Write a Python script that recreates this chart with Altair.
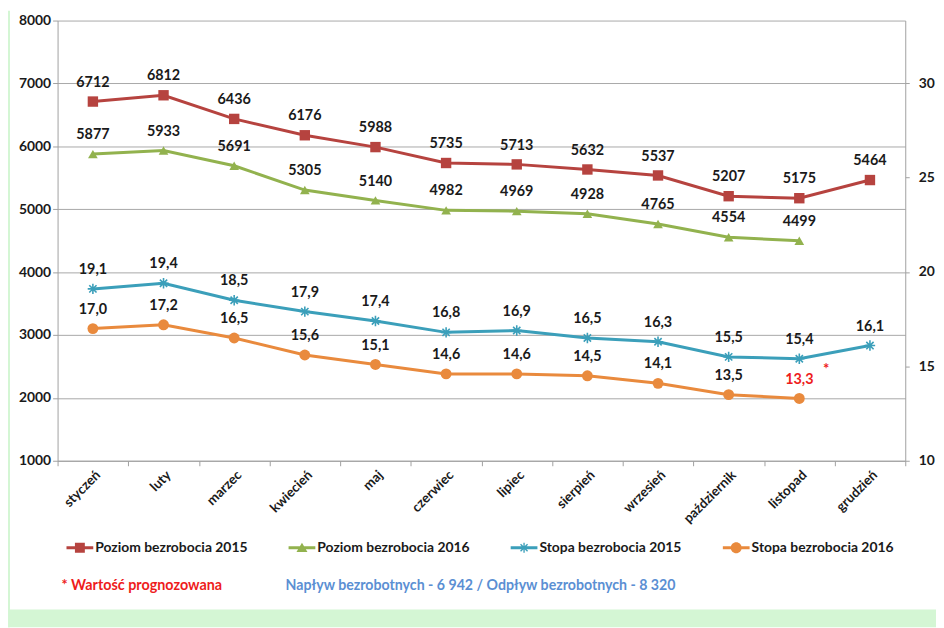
import math
import altair as alt
import pandas as pd

# ---------------- data ----------------
months = ["styczeń", "luty", "marzec", "kwiecień", "maj", "czerwiec", "lipiec",
          "sierpień", "wrzesień", "październik", "listopad", "grudzień"]
poziom_2015 = [6712, 6812, 6436, 6176, 5988, 5735, 5713, 5632, 5537, 5207, 5175, 5464]
poziom_2016 = [5877, 5933, 5691, 5305, 5140, 4982, 4969, 4928, 4765, 4554, 4499]
stopa_2015 = [19.1, 19.4, 18.5, 17.9, 17.4, 16.8, 16.9, 16.5, 16.3, 15.5, 15.4, 16.1]
stopa_2016 = [17.0, 17.2, 16.5, 15.6, 15.1, 14.6, 14.6, 14.5, 14.1, 13.5, 13.3]
series_names = ["Poziom bezrobocia 2015", "Poziom bezrobocia 2016",
                "Stopa bezrobocia 2015", "Stopa bezrobocia 2016"]
series_colors = ["#b6433f", "#92b24e", "#3b9fba", "#e98a3d"]
left_ticks = [1000, 2000, 3000, 4000, 5000, 6000, 7000, 8000]
right_ticks = [10, 15, 20, 25, 30]
forecast_month = "listopad"
forecast_series = "Stopa bezrobocia 2016"
note_forecast = "* Wartość prognozowana"
note_flows = "Napływ bezrobotnych - 6 942 / Odpływ bezrobotnych - 8 320"

FONT = "Lato"
TXT = "#1a1a1a"
RED = "#ee1c1c"
GRID = "#a8a8a8"
GREEN_BG = "#d4f6d4"


def frame(name, values):
    return pd.DataFrame({"month": months[:len(values)], "series": name, "value": values})


dfs = [frame(series_names[0], poziom_2015), frame(series_names[1], poziom_2016),
       frame(series_names[2], stopa_2015), frame(series_names[3], stopa_2016)]

# ---------------- encodings ----------------
x_enc = alt.X("month:N", sort=months, bandPosition=0.5,
              scale=alt.Scale(type="band", domain=months, paddingInner=0, paddingOuter=0),
              axis=alt.Axis(title=None, tickBand="extent", labelAngle=315, labelAlign="right",
                            labelBaseline="top", labelPadding=2, tickSize=5, grid=False,
                            domainColor="#a0a0a0", tickColor="#a0a0a0", labelFont=FONT,
                            labelFontWeight="bold", labelFontSize=13.5, labelColor=TXT))

y_left = alt.Y("value:Q",
               scale=alt.Scale(domain=[1000, 8000], nice=False, zero=False),
               axis=alt.Axis(title=None, values=left_ticks, format="d", grid=True,
                             gridColor=GRID, domainColor="#a0a0a0", tickColor="#a0a0a0",
                             tickSize=5, labelPadding=2, labelFont=FONT, labelFontWeight="bold",
                             labelFontSize=14, labelColor=TXT))

y_right = alt.Y("value:Q",
                scale=alt.Scale(domain=[10, 33.31], nice=False, zero=False),
                axis=alt.Axis(title=None, orient="right", values=right_ticks, grid=False,
                              domainColor="#a0a0a0", tickColor="#a0a0a0", tickSize=4,
                              labelPadding=9, labelFont=FONT, labelFontWeight="bold",
                              labelFontSize=14, labelColor=TXT))

asterisk = "M-1,0L1,0M0,-1L0,1M-0.7,-0.7L0.7,0.7M-0.7,0.7L0.7,-0.7"
marker_specs = [
    dict(shape="square", size=110, filled=True),
    dict(shape="triangle-up", size=95, filled=True),
    dict(shape=asterisk, size=110, filled=False, strokeWidth=1.6),
    dict(shape="circle", size=120, filled=True),
]


def series_layer(i, y_enc, fmt_expr):
    df = dfs[i]
    col = series_colors[i]
    base = alt.Chart(df).encode(x=x_enc, y=y_enc)
    line = base.mark_line(color=col, strokeWidth=3)
    pts = base.mark_point(color=col, opacity=1, **marker_specs[i])
    txt = base.transform_calculate(label=fmt_expr).mark_text(
        font=FONT, fontWeight="bold", fontSize=14.5, dy=-19, baseline="middle"
    ).encode(
        text="label:N",
        color=alt.condition(f"datum.month == '{forecast_month}' && datum.series == '{forecast_series}'",
                            alt.value(RED), alt.value(TXT)),
    )
    return alt.layer(line, pts, txt)


fmt_int = "format(datum.value, 'd')"
fmt_dec = "replace(format(datum.value, '.1f'), '.', ',')"

left = alt.layer(series_layer(0, y_left, fmt_int), series_layer(1, y_left, fmt_int))

star = alt.Chart(dfs[3]).transform_filter(
    f"datum.month == '{forecast_month}'"
).transform_calculate(star="'*'").mark_text(
    font=FONT, fontWeight="bold", fontSize=15, color=RED, dx=27, dy=-30
).encode(x=x_enc, y=y_right, text="star:N")

right = alt.layer(series_layer(2, y_right, fmt_dec), series_layer(3, y_right, fmt_dec), star)

# ---------------- legend (line + marker symbols) ----------------
def rect_arm(cx, cy, L, w):
    # rectangle along direction (cx, cy) with half-length L and half-width w (clockwise)
    nx, ny = -cy, cx
    pts = [(-L * cx - w * nx, -L * cy - w * ny), (L * cx - w * nx, L * cy - w * ny),
           (L * cx + w * nx, L * cy + w * ny), (-L * cx + w * nx, -L * cy + w * ny)]
    return "M" + "L".join(f"{a:.3f},{b:.3f}" for a, b in pts) + "Z"


line_path = "M-1,-0.11H1V0.11H-1Z"
r45 = math.sqrt(0.5)
legend_paths = [
    line_path + "M-0.37,-0.37H0.37V0.37H-0.37Z",
    line_path + "M-0.41,0.32L0,-0.38L0.41,0.32Z",
    line_path + rect_arm(0, 1, 0.37, 0.05) + rect_arm(r45, r45, 0.37, 0.05) + rect_arm(r45, -r45, 0.37, 0.05),
    line_path + "M-0.41,0A0.41,0.41,0,1,1,0.41,0A0.41,0.41,0,1,1,-0.41,0Z",
]

legend_def = alt.Legend(
    title=None, orient="none", legendX=9, legendY=518, direction="horizontal",
    columns=4, columnPadding=41, symbolSize=729, symbolStrokeWidth=0, symbolOpacity=1,
    labelFont=FONT, labelFontWeight="bold", labelFontSize=14, labelColor=TXT,
    labelOffset=2, labelLimit=400, padding=0,
)
legend_df = pd.DataFrame({"series": series_names})
legend_layer = alt.Chart(legend_df).mark_point(filled=True, opacity=0, size=729).encode(
    color=alt.Color("series:N", sort=series_names,
                    scale=alt.Scale(domain=series_names, range=series_colors), legend=legend_def),
    shape=alt.Shape("series:N", sort=series_names,
                    scale=alt.Scale(domain=series_names, range=legend_paths), legend=legend_def),
)

# ---------------- notes and frame decoration ----------------
note1 = alt.Chart(pd.DataFrame({"t": [note_forecast]})).mark_text(
    font=FONT, fontWeight="bold", fontSize=14.5, color=RED, align="left", baseline="middle"
).encode(x=alt.value(4), y=alt.value(570), text="t:N")
note2 = alt.Chart(pd.DataFrame({"t": [note_flows]})).mark_text(
    font=FONT, fontWeight="bold", fontSize=14.3, color="#5b8fd3", align="left", baseline="middle"
).encode(x=alt.value(230), y=alt.value(570), text="t:N")

deco_df = pd.DataFrame({"k": [0]})
strip_bottom = alt.Chart(deco_df).mark_rect(color=GREEN_BG).encode(
    x=alt.value(-50), x2=alt.value(886), y=alt.value(594), y2=alt.value(612))
strip_left = alt.Chart(deco_df).mark_rect(color=GREEN_BG).encode(
    x=alt.value(-50), x2=alt.value(-48), y=alt.value(-10), y2=alt.value(612))

chart = alt.layer(
    strip_bottom, strip_left, left, right, legend_layer, note1, note2
).resolve_scale(
    y="independent", color="independent", shape="independent"
).properties(
    width=855, height=444,
    autosize=alt.AutoSizeParams(type="none"),
    padding={"left": 50, "top": 10, "right": 31, "bottom": 166},
    background="white",
).configure_view(stroke=None)

chart.save("out.html", embed_options={"renderer": "svg", "actions": False})
